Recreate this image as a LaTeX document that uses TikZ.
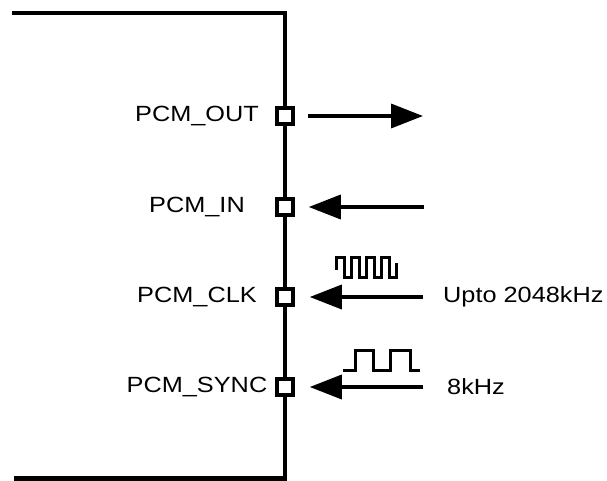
\documentclass[tikz,border=0pt]{standalone}
\usepackage{fontspec}
\newfontfamily\pinfont[FakeStretch=1.15]{Liberation Sans}
\usetikzlibrary{arrows.meta}
\tikzset{
  frame/.style={line width=4.5pt},
  pinbox/.style={draw, fill=white, line width=3.5pt, minimum size=16pt, inner sep=0pt},
  lbl/.style={font=\pinfont\fontsize{22}{26}\selectfont, inner sep=0pt},
  sig/.style={line width=3.5pt, -{Triangle[length=32pt,width=24pt]}},
  wave/.style={line width=3pt}
}
\newcommand{\myShowPin}[3]{
\node[pinbox] (#1) at (285,#2) {}; \node[lbl] (#1L) at (197,#2) {#3};
}

\begin{document}
\begin{tikzpicture}[x=1pt,y=-1pt]
			\useasboundingbox (0,0) rectangle (607,481);
			%% frame
			\coordinate (tl) at (12,13);
			\coordinate (tr) at (285,13);
			\coordinate (br) at (285,478.5);
			\coordinate (bl) at (14,478.5);
			\draw[frame] (tl) -- (tr) -- (br) -- (bl);
			%% pins
			\myShowPin{out}{116}{PCM\_OUT}
			\myShowPin{in}{207}{PCM\_IN}
			\myShowPin{clk}{297}{PCM\_CLK}
			\myShowPin{sync}{387}{PCM\_SYNC}
			%% signals
			\coordinate (outE) at (423,116);
			\coordinate (inE) at (424,207);
			\coordinate (clkE) at (423,297);
			\coordinate (syncE) at (423,387);
			\draw[sig, shorten <=13pt] (out) -- (outE);
			\draw[sig, shorten >=14pt] (inE) -- (in);
			\draw[sig, shorten >=15pt] (clkE) -- (clk);
			\draw[sig, shorten >=15pt] (syncE) -- (sync);
			%% waveforms
			\draw[wave] (336,270) |- (344,257) |- (351,277) |- (359,257) |- (366,277)
			  |- (374,257) |- (381,277) |- (389,257) |- (396,277) -- (396,263);
			\draw[wave] (343,370) -| (355,350) -| (373,370) -| (390,350) -| (410,370) -- (420,370);
			\node[lbl, anchor=west] (clkF) at (443,297) {Upto 2048kHz};
			\node[lbl, anchor=west] (syncF) at (447,387) {8kHz};
\end{tikzpicture}
\end{document}
